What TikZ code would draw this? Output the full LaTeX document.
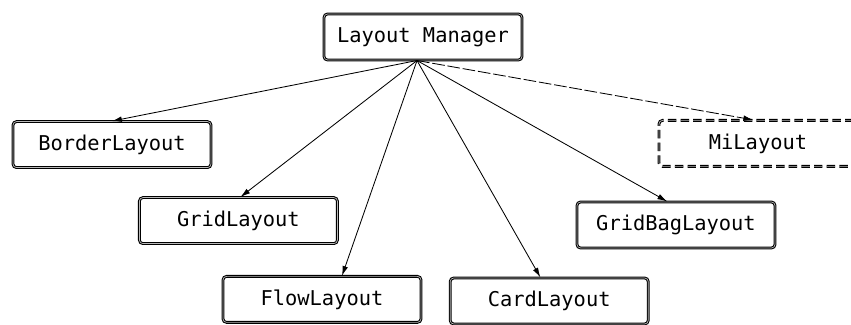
\documentclass[tikz,border=0pt]{standalone}
\usepackage{fontspec}
\setmonofont{DejaVu Sans Mono}
\usetikzlibrary{calc,arrows.meta,positioning}

\tikzset{
  layout/.style={draw, double=gray!55, line width=0.75pt, double distance=0.5pt,
    rounded corners=2.5pt, minimum width=4.95cm, minimum height=1.15cm,
    inner sep=0pt, font=\ttfamily\fontsize{14.5}{17}\selectfont},
  optional/.style={dash pattern=on 6pt off 3pt},
  link/.style={-{Latex[length=7pt,width=4pt]}, line width=0.6pt}
}

\begin{document}
\begin{tikzpicture}
  \useasboundingbox (0,0) rectangle (21.275,8.125);
  \node[layout](LM) at (10.575,7.2){Layout Manager};
  \node[layout](Border) at (2.8,4.51){BorderLayout};
  \node[layout,optional](Mi) at (18.95,4.54){MiLayout};
  \node[layout](Grid) at (5.96,2.61){GridLayout};
  \node[layout](GridBag) at (16.9,2.5){GridBagLayout};
  \node[layout](Flow) at (8.05,0.64){FlowLayout};
  \node[layout](Card) at (13.73,0.6){CardLayout};
  \coordinate(src) at ($(LM.south)+(-0.15,0)$);
  \draw[link](src)--(Border.north);
  \draw[link](src)--([xshift=0.05cm]Grid.north);
  \draw[link](src)--([xshift=0.5cm]Flow.north);
  \draw[link](src)--([xshift=-0.22cm]Card.north);
  \draw[link](src)--([xshift=-0.22cm]GridBag.north);
  \draw[link,dash pattern=on 9pt off 2pt](src)--([xshift=-0.12cm]Mi.north);
\end{tikzpicture}
\end{document}
